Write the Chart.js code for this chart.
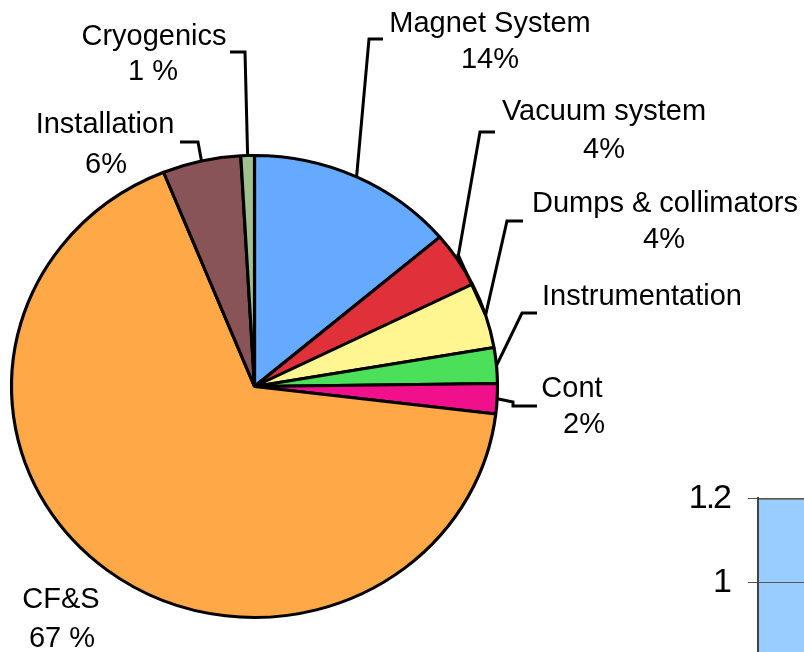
<!DOCTYPE html>
<html>
<head>
  <title>Cost breakdown pie</title>
  <style>
    body {
      margin: 0;
      width: 804px;
      height: 652px;
      overflow: hidden;
      background: #fff;
      position: relative;
      font-family: "Liberation Sans", Arial, sans-serif;
    }
    #pie { position: absolute; left: 0; top: 0; }
    #barBox { position: absolute; left: 640px; top: 460px; width: 400px; height: 600px; }
  </style>
  <script src="https://cdn.jsdelivr.net/npm/chart.js"></script>
</head>
<body>
  <canvas id="pie" width="804" height="652"></canvas>
  <div id="barBox"><canvas id="bar" width="400" height="600"></canvas></div>
  <script>
    // Pie data, clockwise from 12 o'clock
    const categories = ['Magnet System', 'Vacuum system', 'Dumps & collimators', 'Instrumentation',
                        'Cont', 'CF&S', 'Installation', 'Cryogenics'];
    const shares = [13.8, 3.9, 4.6, 2.5, 2.1, 67.0, 5.2, 0.9];
    const pctLabels = ['14%', '4%', '4%', '', '2%', '67 %', '6%', '1 %'];

    // Cut-off bar chart in the corner
    const barCategories = [''];
    const barValues = [1.2];

    // Styles / layout (kept apart from the data)
    const sliceColors = ['#66aaff', '#e0303a', '#fff591', '#4ce05a', '#f0108c', '#ffa848', '#885458', '#a0c090'];
    const STRETCH_X = 243 / 231;   // pie is drawn slightly wider than tall
    // [name x, name baseline, pct x, pct baseline]
    const labelPos = [
      [490, 32, 490, 68],
      [604, 120, 604, 158],
      [665, 212, 664, 248],
      [642, 305, 642, 0],
      [572, 397, 584, 433],
      [61, 608, 62, 647],
      [105, 133, 106, 173],
      [154, 45, 153, 80]
    ];
    // leader line points before it reaches the slice edge
    const leaders = [
      [[383, 39], [369, 39]],
      [[495, 132], [480, 132]],
      [[523, 221], [507, 221]],
      [[537, 313], [522, 313]],
      [[537, 406], [513, 406], [513, 402]],
      null,
      [[180, 142], [198, 142]],
      [[230, 52], [245, 52]]
    ];

    function edgePoint(chart, arc) {
      const a = chart.chartArea;
      const cx = (a.left + a.right) / 2;
      const mid = (arc.startAngle + arc.endAngle) / 2;
      return [cx + (arc.x + Math.cos(mid) * arc.outerRadius - cx) * STRETCH_X,
              arc.y + Math.sin(mid) * arc.outerRadius];
    }

    const stretchPie = {
      id: 'stretchPie',
      beforeDatasetsDraw(chart) {
        const a = chart.chartArea, ctx = chart.ctx;
        const cx = (a.left + a.right) / 2, cy = (a.top + a.bottom) / 2;
        ctx.save();
        ctx.translate(cx, cy);
        ctx.scale(STRETCH_X, 1);
        ctx.translate(-cx, -cy);
      },
      afterDatasetsDraw(chart) {
        chart.ctx.restore();
      }
    };

    const outerLabels = {
      id: 'outerLabels',
      afterDraw(chart) {
        const ctx = chart.ctx;
        const arcs = chart.getDatasetMeta(0).data;
        ctx.save();
        ctx.strokeStyle = '#000';
        ctx.lineWidth = 3;
        ctx.lineJoin = 'miter';
        arcs.forEach((arc, i) => {
          if (!leaders[i]) return;
          const end = edgePoint(chart, arc);
          ctx.beginPath();
          ctx.moveTo(leaders[i][0][0], leaders[i][0][1]);
          leaders[i].slice(1).forEach(p => ctx.lineTo(p[0], p[1]));
          ctx.lineTo(end[0], end[1]);
          ctx.stroke();
        });
        // stray leader between the vacuum and dumps slices
        const v = edgePoint(chart, arcs[1]), d = edgePoint(chart, arcs[2]);
        ctx.beginPath();
        ctx.moveTo(v[0], v[1] - 6);
        ctx.lineTo(d[0], d[1]);
        ctx.stroke();

        ctx.fillStyle = '#000';
        ctx.font = '29px "Liberation Sans", Arial, sans-serif';
        ctx.textAlign = 'center';
        ctx.textBaseline = 'alphabetic';
        categories.forEach((name, i) => {
          const p = labelPos[i];
          ctx.fillText(name, p[0], p[1]);
          if (pctLabels[i]) ctx.fillText(pctLabels[i], p[2], p[3]);
        });
        ctx.restore();
      }
    };

    // the corner chart uses a narrow face; squeeze the glyph spacing instead
    const narrowTicks = {
      id: 'narrowTicks',
      beforeDraw(chart) { chart.ctx.letterSpacing = '-2px'; }
    };

    new Chart(document.getElementById('pie'), {
      type: 'pie',
      data: {
        labels: categories,
        datasets: [{
          data: shares,
          backgroundColor: sliceColors,
          borderColor: '#000',
          borderWidth: 3,
          clip: false
        }]
      },
      options: {
        responsive: false,
        animation: false,
        events: [],
        layout: { padding: { left: 22, top: 154, right: 317, bottom: 33 } },
        plugins: {
          legend: { display: false },
          tooltip: { enabled: false }
        }
      },
      plugins: [stretchPie, outerLabels]
    });

    new Chart(document.getElementById('bar'), {
      type: 'bar',
      data: {
        labels: barCategories,
        datasets: [{
          data: barValues,
          backgroundColor: '#99ccff',
          borderColor: '#808080',
          borderWidth: { top: 2, left: 0, right: 0, bottom: 0 },
          barPercentage: 1,
          categoryPercentage: 1
        }]
      },
      options: {
        responsive: false,
        animation: false,
        events: [],
        layout: { padding: { top: 38, bottom: 55, left: 0, right: 0 } },
        plugins: {
          legend: { display: false },
          tooltip: { enabled: false }
        },
        scales: {
          x: { display: false },
          y: {
            min: 0,
            max: 1.2,
            ticks: {
              stepSize: 0.2,
              padding: 18,
              color: '#000',
              font: { family: '"Liberation Sans Narrow", "Arial Narrow", "Liberation Sans", Arial, sans-serif', size: 34 },
              callback: v => String(+v.toFixed(1))
            },
            grid: { color: '#555', lineWidth: 1, tickLength: 10, z: 1 },
            border: { color: '#444', width: 2, z: 1 },
            afterFit(scale) { scale.width = 118; }
          }
        }
      },
      plugins: [narrowTicks]
    });
  </script>
</body>
</html>
